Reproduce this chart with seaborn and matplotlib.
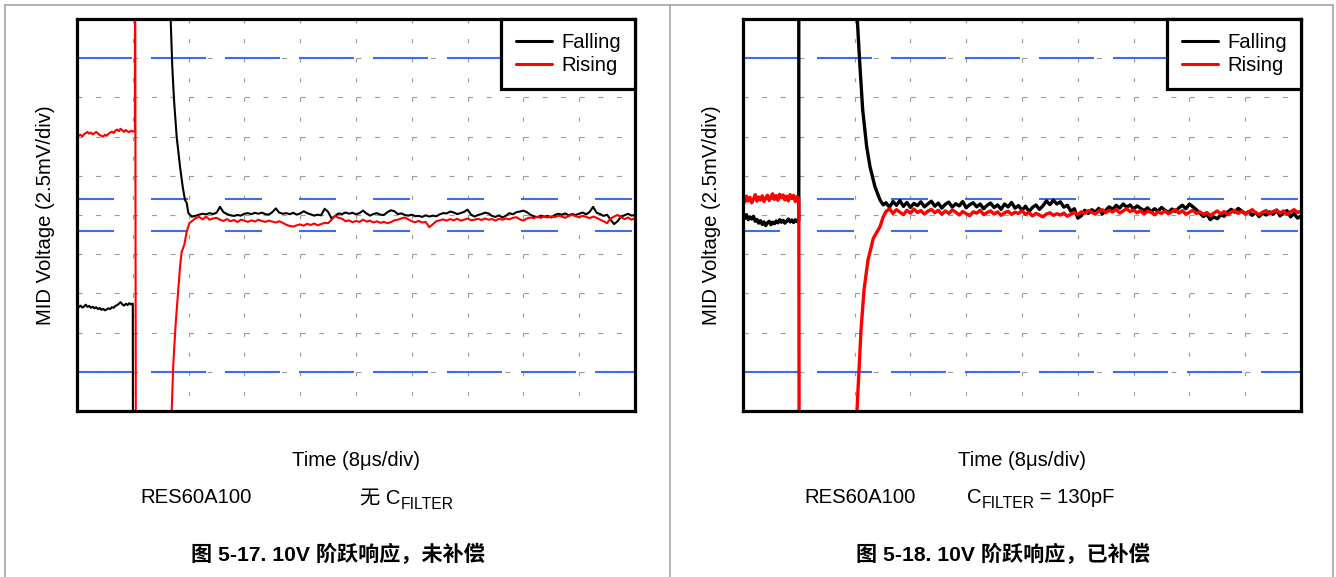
import numpy as np
import pandas as pd
import matplotlib
matplotlib.use("Agg")
import matplotlib.pyplot as plt
import seaborn as sns
from matplotlib.lines import Line2D

# ---------------------------------------------------------------------------
# Scope settings: 8 µs/div, 2.5 mV/div, 10 x 10 divisions, 0 mV at centre
# ---------------------------------------------------------------------------
TIME_PER_DIV = 8.0
MV_PER_DIV = 2.5
N_DIV = 10
T_MAX = TIME_PER_DIV * N_DIV
V_HALF = MV_PER_DIV * N_DIV / 2

# Cursor levels (mV)
CURSOR_OUTER = [10.0, -10.0]
CURSOR_INNER = [1.0, -1.0]

# Sample spacing of the recorded stretches (µs)
PRE_DT = 0.25     # before the step, from t = 0
POST_DT = 0.5     # after settling

# ---------------------------------------------------------------------------
# Fig. 5-17: uncompensated (no C_FILTER)
# ---------------------------------------------------------------------------
unc_fall_pre = [-5.80, -5.88, -5.78, -5.90, -5.84, -5.72, -5.86, -5.80, -5.92, -5.85,
                -5.95, -5.88, -6.00, -5.93, -6.05, -5.98, -6.08, -6.02, -5.95, -6.00,
                -5.88, -5.92, -5.80, -5.75, -5.66, -5.56, -5.70, -5.78, -5.66, -5.74,
                -5.62, -5.70, -5.65]
unc_fall_edge_t = [8.03]
unc_fall_edge_mv = [-20.0]
unc_fall_tail_t = [13.30, 13.43, 13.66, 13.91, 14.29, 14.77, 15.15, 15.48, 15.73, 15.96, 16.44]
unc_fall_tail_mv = [20.0, 12.44, 9.46, 7.33, 4.99, 3.08, 1.81, 0.96, 0.77, 0.13, -0.11]
unc_fall_settle_t0 = 17.0
unc_fall_settle = [-0.05, 0.02, 0.08, 0.04, 0.12, 0.06, 0.14, 0.52, 0.18, 0.06,
                   -0.02, -0.06, 0.00, -0.04, 0.08, 0.12, 0.05, 0.14, 0.08, 0.15,
                   0.06, 0.02, 0.18, 0.42, 0.15, 0.08, 0.12, 0.05, 0.14, 0.02,
                   0.10, 0.24, 0.12, 0.04, -0.04, 0.02, -0.02, 0.40, 0.20, -0.22,
                   -0.06, 0.10, 0.06, 0.16, 0.08, 0.14, 0.04, 0.12, 0.28, 0.10,
                   -0.04, 0.06, 0.12, 0.02, 0.00, 0.18, 0.30, 0.24, 0.06, 0.10,
                   0.00, -0.04, 0.02, -0.08, -0.06, -0.12, -0.02, -0.10, -0.04, -0.08,
                   0.04, 0.12, 0.10, 0.22, 0.16, 0.06, 0.12, 0.20, 0.34, 0.02,
                   -0.10, 0.00, 0.06, 0.15, 0.10, -0.06, -0.12, -0.02, -0.16, -0.04,
                   0.12, 0.04, 0.18, 0.22, 0.28, 0.18, 0.02, -0.08, -0.14, -0.04,
                   -0.12, -0.06, -0.16, 0.00, 0.08, 0.02, 0.10, -0.02, 0.06, 0.00,
                   0.08, 0.16, 0.04, 0.20, 0.52, 0.14, 0.06, -0.06, 0.02, -0.30,
                   -0.58, -0.40, -0.10, -0.02, 0.08, -0.04, 0.00]

unc_rise_pre = [5.20, 5.05, 5.12, 5.00, 5.15, 5.22, 5.30, 5.18, 5.26, 5.14,
                5.22, 5.30, 5.20, 5.10, 5.05, 5.00, 5.12, 5.05, 5.18, 5.25,
                5.32, 5.22, 5.38, 5.45, 5.35, 5.50, 5.40, 5.30, 5.42, 5.34,
                5.28, 5.38, 5.32]
unc_rise_tail_t = [8.30, 8.33, 8.45, 13.45, 13.58, 13.81, 14.15, 14.52, 14.77, 15.01,
                   15.38, 15.73, 16.10, 16.67]
unc_rise_tail_mv = [5.35, 20.0, -20.0, -20.0, -12.44, -9.46, -6.91, -4.78, -3.30, -2.34,
                    -1.91, -1.07, -0.53, -0.32]
unc_rise_settle_t0 = 17.0
unc_rise_settle = [-0.20, -0.12, -0.28, -0.10, -0.30, -0.22, -0.18, -0.30, -0.38, -0.26,
                   -0.40, -0.32, -0.45, -0.30, -0.36, -0.44, -0.34, -0.42, -0.30, -0.38,
                   -0.44, -0.36, -0.42, -0.48, -0.40, -0.50, -0.62, -0.70, -0.74, -0.66,
                   -0.60, -0.68, -0.56, -0.64, -0.54, -0.66, -0.58, -0.50, -0.52, -0.30,
                   -0.06, -0.18, -0.24, -0.40, -0.34, -0.46, -0.38, -0.44, -0.30, -0.42,
                   -0.36, -0.48, -0.40, -0.50, -0.44, -0.52, -0.46, -0.34, -0.30, -0.22,
                   -0.16, -0.28, -0.40, -0.46, -0.38, -0.48, -0.44, -0.78, -0.60, -0.40,
                   -0.34, -0.28, -0.36, -0.26, -0.34, -0.24, -0.36, -0.30, -0.22, -0.34,
                   -0.30, -0.24, -0.32, -0.22, -0.30, -0.26, -0.36, -0.24, -0.30, -0.22,
                   -0.28, -0.18, -0.14, -0.28, -0.36, -0.22, -0.16, -0.20, -0.12, -0.18,
                   -0.10, -0.16, -0.08, -0.14, -0.04, -0.10, -0.18, -0.06, 0.00, -0.08,
                   -0.14, -0.06, -0.12, -0.20, -0.10, -0.18, -0.30, -0.40, -0.52, -0.22,
                   -0.10, 0.00, -0.14, -0.26, -0.16, -0.30, -0.20]

# ---------------------------------------------------------------------------
# Fig. 5-18: compensated, C_FILTER = 130 pF
# ---------------------------------------------------------------------------
cmp_fall_pre = [-0.05, -0.22, 0.02, -0.30, -0.12, -0.26, -0.08, -0.40, -0.28, -0.52,
                -0.36, -0.60, -0.44, -0.68, -0.50, -0.40, -0.62, -0.46, -0.56, -0.38,
                -0.50, -0.30, -0.46, -0.34, -0.52, -0.40, -0.26, -0.44, -0.32, -0.48,
                -0.30, -0.42, -0.36]
cmp_fall_tail_t = [8.00, 16.30, 16.39, 16.77, 17.16, 17.73, 18.21, 18.92, 19.64, 20.11]
cmp_fall_tail_mv = [20.0, 20.0, 12.44, 9.46, 6.70, 4.36, 3.08, 1.80, 0.96, 0.64]
cmp_fall_settle_t0 = 20.5
cmp_fall_settle = [0.78, 0.50, 0.86, 0.62, 0.92, 0.55, 0.80, 0.48, 0.74, 0.60,
                   0.84, 0.52, 0.70, 0.88, 0.56, 0.76, 0.44, 0.68, 0.82, 0.50,
                   0.72, 0.58, 0.86, 0.46, 0.66, 0.78, 0.52, 0.70, 0.40, 0.62,
                   0.76, 0.48, 0.64, 0.36, 0.70, 0.52, 0.80, 0.44, 0.60, 0.30,
                   0.56, 0.22, 0.48, 0.64, 0.36, 0.58, 0.90, 0.66, 0.94, 0.70,
                   0.84, 0.50, 0.62, 0.24, 0.40, -0.20, -0.05, 0.30, 0.10, 0.34,
                   0.18, 0.42, 0.06, 0.30, 0.52, 0.36, 0.62, 0.44, 0.70, 0.50,
                   0.64, 0.38, 0.58, 0.42, 0.28, 0.46, 0.20, 0.40, 0.24, 0.48,
                   0.30, 0.16, 0.38, 0.22, 0.46, 0.62, 0.40, 0.70, 0.52, 0.34,
                   0.12, -0.10, 0.05, -0.30, -0.12, -0.24, 0.02, -0.08, 0.20, 0.36,
                   0.18, 0.42, 0.26, 0.08, 0.22, -0.02, 0.16, -0.10, 0.12, 0.00,
                   0.20, 0.04, 0.30, -0.06, 0.14, 0.28, -0.12, 0.10, -0.20, -0.06]

cmp_rise_pre = [1.05, 0.82, 1.20, 0.90, 1.12, 0.78, 1.02, 1.30, 0.88, 1.15,
                0.95, 1.22, 0.86, 1.08, 1.26, 0.92, 1.18, 1.35, 1.00, 1.24,
                0.94, 1.32, 1.10, 1.28, 0.96, 1.20, 0.90, 1.30, 1.05, 1.25,
                0.86, 1.18, 1.02]
cmp_rise_tail_t = [8.06, 16.25, 16.34, 16.63, 16.92, 17.35, 17.92, 18.68, 19.64, 20.11]
cmp_rise_tail_mv = [-20.0, -20.0, -12.5, -9.9, -7.33, -4.78, -2.87, -1.49, -0.75, -0.11]
cmp_rise_settle_t0 = 20.5
cmp_rise_settle = [0.22, 0.40, 0.10, 0.34, 0.18, 0.02, 0.30, 0.12, 0.38, 0.16,
                   0.28, 0.06, 0.24, 0.36, 0.14, 0.30, 0.04, 0.26, 0.10, 0.32,
                   0.18, 0.00, 0.22, 0.08, -0.04, 0.20, 0.12, 0.30, 0.02, 0.16,
                   0.26, 0.06, 0.20, -0.02, 0.14, 0.24, 0.04, 0.18, 0.10, 0.28,
                   0.04, 0.16, -0.06, 0.10, 0.00, -0.12, 0.06, 0.14, -0.02, 0.08,
                   0.00, 0.12, -0.08, 0.04, 0.16, 0.02, 0.20, 0.10, 0.28, 0.18,
                   0.06, 0.24, 0.34, 0.14, 0.30, 0.20, 0.36, 0.12, 0.26, 0.40,
                   0.22, 0.32, 0.14, 0.28, 0.06, 0.24, 0.18, 0.02, 0.20, 0.10,
                   0.26, 0.08, 0.22, 0.34, 0.12, 0.28, 0.04, 0.18, 0.30, 0.10,
                   0.20, 0.04, 0.16, -0.04, 0.12, 0.26, 0.08, 0.22, 0.02, 0.18,
                   0.30, 0.10, 0.24, 0.06, 0.20, 0.34, 0.14, 0.02, 0.18, 0.28,
                   0.08, 0.22, 0.32, 0.12, 0.26, 0.04, 0.20, 0.34, 0.16, 0.24]

TRACE_NAMES = ["Falling", "Rising"]
TRACE_COLORS = {"Falling": "#000000", "Rising": "#ff0000"}
CURSOR_BLUE = "#3a6ef0"
GRID_GRAY = "#9e9e9e"
BORDER_GRAY = "#9c9c9c"

W_PX, H_PX, DPI = 1336, 577, 100
PT = 72.0 / DPI  # points per pixel


def sampled(t0, dt, values):
    return list(t0 + dt * np.arange(len(values))), list(values)


def trace_frame(name, segments):
    parts = []
    for k, (t, v) in enumerate(segments):
        parts.append(pd.DataFrame({"t": t, "mV": v, "trace": name, "seg": k}))
    return pd.concat(parts, ignore_index=True)


def frames_uncompensated():
    pre_t, pre_v = sampled(0.0, PRE_DT, unc_fall_pre)
    st_t, st_v = sampled(unc_fall_settle_t0, POST_DT, unc_fall_settle)
    fall = trace_frame("Falling", [
        (pre_t + unc_fall_edge_t, pre_v + unc_fall_edge_mv),
        (unc_fall_tail_t + st_t, unc_fall_tail_mv + st_v),
    ])
    pre_t, pre_v = sampled(0.0, PRE_DT, unc_rise_pre)
    st_t, st_v = sampled(unc_rise_settle_t0, POST_DT, unc_rise_settle)
    rise = trace_frame("Rising", [
        (pre_t + unc_rise_tail_t + st_t, pre_v + unc_rise_tail_mv + st_v),
    ])
    return pd.concat([fall, rise], ignore_index=True)


def frames_compensated():
    pre_t, pre_v = sampled(0.0, PRE_DT, cmp_fall_pre)
    st_t, st_v = sampled(cmp_fall_settle_t0, POST_DT, cmp_fall_settle)
    fall = trace_frame("Falling", [
        (pre_t + cmp_fall_tail_t + st_t, pre_v + cmp_fall_tail_mv + st_v),
    ])
    pre_t, pre_v = sampled(0.0, PRE_DT, cmp_rise_pre)
    st_t, st_v = sampled(cmp_rise_settle_t0, POST_DT, cmp_rise_settle)
    rise = trace_frame("Rising", [
        (pre_t + cmp_rise_tail_t + st_t, pre_v + cmp_rise_tail_mv + st_v),
    ])
    return pd.concat([fall, rise], ignore_index=True)


sns.set_theme(style="white")
plt.rcParams["font.family"] = ["Liberation Sans", "Noto Sans CJK SC"]
plt.rcParams["lines.scale_dashes"] = False
plt.rcParams["axes.unicode_minus"] = False
plt.rcParams["text.color"] = "black"
plt.rcParams["axes.labelcolor"] = "black"

FS = 14.6

fig = plt.figure(figsize=(W_PX / DPI, H_PX / DPI), dpi=DPI)
fig.patch.set_facecolor("white")

AX_W, AX_H = 558, 392
AX_TOP = 19
ax_left = fig.add_axes([77 / W_PX, 1 - (AX_TOP + AX_H) / H_PX, AX_W / W_PX, AX_H / H_PX])
ax_right = fig.add_axes([743 / W_PX, 1 - (AX_TOP + AX_H) / H_PX, AX_W / W_PX, AX_H / H_PX])


def scope_axes(ax, df, lw):
    ax.set_xlim(0, T_MAX)
    ax.set_ylim(-V_HALF, V_HALF)
    ax.set_facecolor("white")

    div_w = AX_W / N_DIV
    div_h = AX_H / N_DIV
    # graticule: short dashes, three per division across, two per division down
    for k in range(1, N_DIV):
        y = -V_HALF + k * MV_PER_DIV
        ax.axhline(y, color=GRID_GRAY, lw=0.85, zorder=1,
                   linestyle=(0, (5 * PT, (div_w / 3 - 5) * PT)))
        x = k * TIME_PER_DIV
        ax.plot([x, x], [V_HALF, -V_HALF], color=GRID_GRAY, lw=0.85, zorder=1,
                linestyle=(0, (4 * PT, (div_h / 2 - 4) * PT)))

    # cursor lines
    for y in CURSOR_OUTER:
        ax.axhline(y, color=CURSOR_BLUE, lw=1.5, zorder=1.5,
                   linestyle=(0, (55 * PT, 19 * PT)))
    for y in CURSOR_INNER:
        ax.axhline(y, color=CURSOR_BLUE, lw=1.5, zorder=1.5,
                   linestyle=(0, (37 * PT, 37 * PT)))

    sns.lineplot(data=df, x="t", y="mV", hue="trace", hue_order=TRACE_NAMES,
                 units="seg", estimator=None, sort=False, palette=TRACE_COLORS,
                 linewidth=lw, ax=ax, zorder=3)

    ax.set_xlim(0, T_MAX)
    ax.set_ylim(-V_HALF, V_HALF)
    ax.set_xticks([])
    ax.set_yticks([])

    for side in ax.spines.values():
        side.set_visible(True)
        side.set_color("black")
        side.set_linewidth(2.3)
        side.set_zorder(6)

    handles, labels = ax.get_legend_handles_labels()
    leg = ax.legend(handles, labels, loc="upper right", borderaxespad=0.0,
                    fontsize=FS, frameon=True, fancybox=False, framealpha=1.0,
                    edgecolor="black", borderpad=0.7, labelspacing=0.2,
                    handlelength=1.8, handletextpad=0.45, labelcolor="black")
    leg.get_frame().set_linewidth(2.3)
    leg.set_zorder(7)
    for h in leg.get_lines():
        h.set_linewidth(2.2)

    ax.set_xlabel("Time (8μs/div)", fontsize=FS, color="black", visible=True)
    ax.xaxis.set_label_coords(0.5, -(466 - 411) / AX_H)
    ax.xaxis.label.set_va("baseline")
    ax.set_ylabel("MID Voltage (2.5mV/div)", fontsize=FS, color="black", visible=True)
    ax.yaxis.set_label_coords(-31 / AX_W, 0.5)
    ax.yaxis.label.set_va("center")


scope_axes(ax_left, frames_uncompensated(), 1.5)
scope_axes(ax_right, frames_compensated(), 2.4)

# panel frames
for x0, x1, y0, y1 in [(4.5, 1332.5, 4.5, 4.5), (4.5, 4.5, 4.5, 577), (669.5, 669.5, 4.5, 577),
                       (1332.5, 1332.5, 4.5, 577)]:
    fig.add_artist(Line2D([x0 / W_PX, x1 / W_PX], [1 - y0 / H_PX, 1 - y1 / H_PX],
                          transform=fig.transFigure, color=BORDER_GRAY, lw=1.1))


def fy(py):
    return 1 - py / H_PX


SUB = FS * 0.78

# part number and filter notes
fig.text(140 / W_PX, fy(503), "RES60A100", fontsize=FS, va="baseline", color="black")
fig.text(804 / W_PX, fy(503), "RES60A100", fontsize=FS, va="baseline", color="black")

note_l = fig.text(360 / W_PX, fy(504), "无 C", fontsize=FS, va="baseline", color="black")
ax_left.annotate("FILTER", xy=(1, 0), xycoords=note_l, xytext=(0, -3.2),
                 textcoords="offset points", fontsize=SUB, va="bottom",
                 ha="left", annotation_clip=False, color="black")

note_c = fig.text(967 / W_PX, fy(503), "C", fontsize=FS, va="baseline", color="black")
sub_r = ax_right.annotate("FILTER", xy=(1, 0), xycoords=note_c, xytext=(0, -3.2),
                          textcoords="offset points", fontsize=SUB, va="bottom",
                          ha="left", annotation_clip=False, color="black")
ax_right.annotate(" = 130pF", xy=(1, 0), xycoords=(sub_r, note_c), xytext=(0, 0),
                  textcoords="offset points", fontsize=FS, va="bottom", ha="left",
                  annotation_clip=False, color="black")

# captions
fig.text(338 / W_PX, fy(561), "图 5-17. 10V 阶跃响应，未补偿", fontsize=15.2,
         fontweight="bold", ha="center", va="baseline", color="black")
fig.text(1003 / W_PX, fy(561), "图 5-18. 10V 阶跃响应，已补偿", fontsize=15.2,
         fontweight="bold", ha="center", va="baseline", color="black")

fig.savefig("out.png", dpi=DPI, facecolor="white")
